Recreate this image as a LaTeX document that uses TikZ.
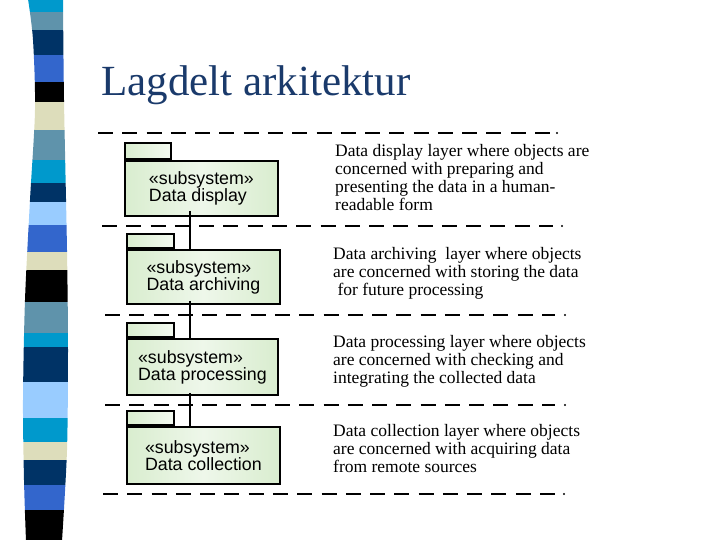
\documentclass[tikz,border=0pt]{standalone}
\usepackage{fontspec}
\setmainfont{Liberation Serif}
\newfontfamily\boxfont{Liberation Sans}
\usetikzlibrary{calc}
\definecolor{cyanb}{HTML}{0099CC}
\definecolor{greyb}{HTML}{5F93AB}
\definecolor{navyb}{HTML}{003366}
\definecolor{royalb}{HTML}{3366CC}
\definecolor{beigeb}{HTML}{DDDDBB}
\definecolor{lightb}{HTML}{99CCFF}
\definecolor{titleblue}{HTML}{1A3A6B}
\definecolor{gA}{HTML}{D9EDCF}
\definecolor{gB}{HTML}{EEF7EA}
\definecolor{gC}{HTML}{F4FAF1}
\tikzset{
  pkg/.style={draw=black, line width=1.8pt, left color=gA, right color=gA, middle color=gB,
    inner sep=0pt, align=left, font=\boxfont\fontsize{17.8}{17}\selectfont},
  pkgtab/.style={draw=black, line width=1.8pt, left color=gA, right color=gC,
    inner sep=0pt, minimum width=46pt},
  link/.style={line width=1.5pt},
  sep/.style={line width=1.8pt, dash pattern=on 15pt off 9.28pt},
  desc/.style={anchor=north west, inner sep=0pt, align=left,
    font=\fontsize{17.5}{18}\selectfont},
}
\begin{document}
\begin{tikzpicture}[x=1pt,y=-1pt]
\useasboundingbox (0,0) rectangle (720,540);
% decorative stripe
\begin{scope}
\clip plot[smooth] coordinates {(28,-1) (33,40) (35,110) (30,200) (25,300) (23,400) (24,480) (26,541)}
  -- plot[smooth] coordinates {(62,541) (67,450) (68,350) (67,250) (64,100) (63,-1)} -- cycle;
\fill[cyanb]  (0,-2) rectangle (80,12);
\fill[greyb]  (0,12) rectangle (80,30);
\fill[navyb]  (0,30) rectangle (80,55);
\fill[royalb] (0,55) rectangle (80,82);
\fill[black]  (0,82) rectangle (80,102);
\fill[beigeb] (0,102) rectangle (80,130);
\fill[greyb]  (0,130) rectangle (80,160);
\fill[cyanb]  (0,160) rectangle (80,183);
\fill[navyb]  (0,183) rectangle (80,202);
\fill[lightb] (0,202) rectangle (80,225);
\fill[royalb] (0,225) rectangle (80,252);
\fill[beigeb] (0,252) rectangle (80,270);
\fill[black]  (0,270) rectangle (80,302);
\fill[greyb]  (0,302) rectangle (80,333);
\fill[cyanb]  (0,333) rectangle (80,347);
\fill[navyb]  (0,347) rectangle (80,382);
\fill[lightb] (0,382) rectangle (80,418);
\fill[cyanb]  (0,418) rectangle (80,442);
\fill[beigeb] (0,442) rectangle (80,460);
\fill[navyb]  (0,460) rectangle (80,485);
\fill[royalb] (0,485) rectangle (80,510);
\fill[black]  (0,510) rectangle (80,542);
\end{scope}
% title
\node[anchor=base west, inner sep=0pt, text=titleblue, font=\fontsize{43}{48}\selectfont]
  (title) at (101,96) {Lagdelt arkitektur};
% separators
\draw[sep] (98,133) -- ++(452,0);  \fill (557,133) circle (1.1pt);
\draw[sep] (102,226) -- ++(451,0); \fill (562,226) circle (1.1pt);
\draw[sep] (105,315) -- ++(450,0); \fill (565,315) circle (1.1pt);
\draw[sep] (105,405) -- ++(450,0); \fill (565,405) circle (1.1pt);
\draw[sep] (103,494) -- ++(452,0); \fill (564,494) circle (1.1pt);
% packages
\node[pkg, minimum width=153pt, minimum height=55pt, anchor=north west] (b1) at (124,160) {«subsystem»\\Data display};
\node[pkgtab, minimum height=16pt, anchor=south west] (t1) at (b1.north west) {};
\node[pkg, minimum width=153pt, minimum height=54pt, anchor=north west] (b2) at (126,249) {«subsystem»\\Data archiving};
\node[pkgtab, minimum width=47pt, minimum height=14pt, anchor=south west] (t2) at (b2.north west) {};
\node[pkg, minimum width=151pt, minimum height=56pt, anchor=north west] (b3) at (126,338) {«subsystem»\\Data processing};
\node[pkgtab, minimum width=47pt, minimum height=14pt, anchor=south west] (t3) at (b3.north west) {};
\node[pkg, minimum width=153pt, minimum height=57pt, anchor=north west] (b4) at (126,426) {«subsystem»\\Data collection};
\node[pkgtab, minimum width=47pt, minimum height=14pt, anchor=south west] (t4) at (b4.north west) {};
% connectors
\coordinate (ax) at (190,0);
\draw[link] ([yshift=6pt]b1.south -| ax) -- (b2.north -| ax);
\draw[link] ([yshift=4pt]b2.south -| ax) -- (b3.north -| ax);
\draw[link] ([yshift=3pt]b3.south -| ax) -- (b4.north -| ax);
% descriptions
\node[desc] (d1) at (335,144) {Data display layer where objects are\\concerned with preparing and\\presenting the data in a human-\\readable form};
\node[desc] (d2) at (333,247) {Data archiving\ \ layer where objects\\are concerned with storing the data\\\ for future processing};
\node[desc] (d3) at (333,335) {Data processing layer where objects\\are concerned with checking and\\integrating the collected data};
\node[desc] (d4) at (333,424) {Data collection layer where objects\\are concerned with acquiring data\\from remote sources};
\end{tikzpicture}
\end{document}
